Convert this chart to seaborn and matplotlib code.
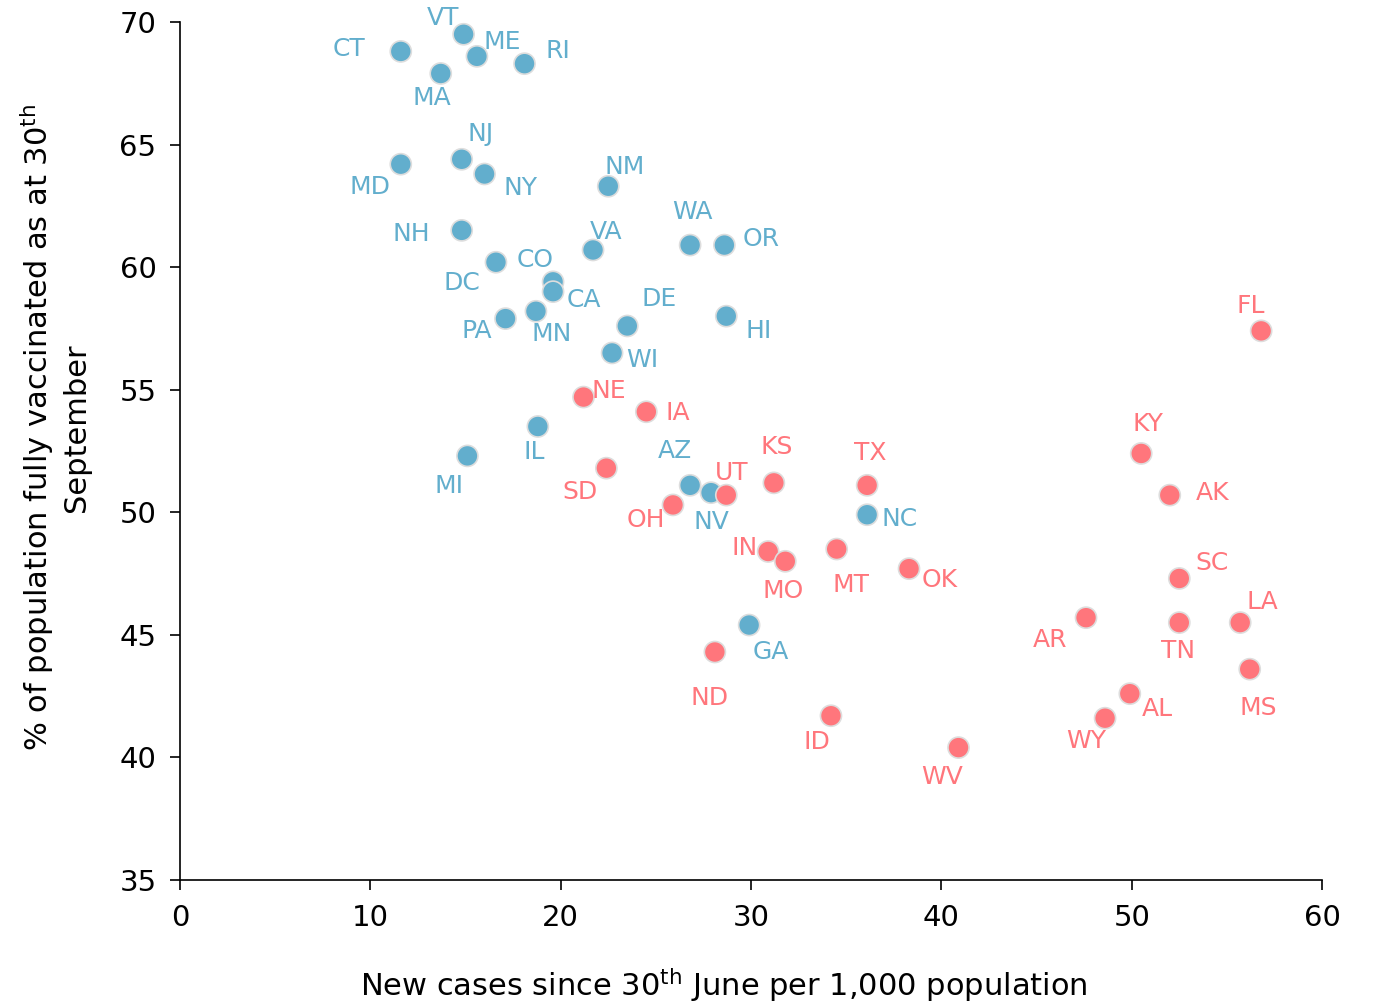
import matplotlib
matplotlib.use("Agg")
import matplotlib.pyplot as plt
import seaborn as sns
import pandas as pd

# ---- data ----
blue_states = ["CT", "VT", "ME", "RI", "MA", "NJ", "MD", "NY", "NM", "NH", "WA", "OR", "VA",
               "CO", "DC", "CA", "PA", "MN", "DE", "HI", "WI", "IL", "MI", "AZ", "NV", "NC", "GA"]
blue_cases = [11.6, 14.9, 15.6, 18.1, 13.7, 14.8, 11.6, 16.0, 22.5, 14.8, 26.8, 28.6, 21.7,
              16.6, 19.6, 19.6, 17.1, 18.7, 23.5, 28.7, 22.7, 18.8, 15.1, 26.8, 27.9, 36.1, 29.9]
blue_vacc = [68.8, 69.5, 68.6, 68.3, 67.9, 64.4, 64.2, 63.8, 63.3, 61.5, 60.9, 60.9, 60.7,
             60.2, 59.4, 59.0, 57.9, 58.2, 57.6, 58.0, 56.5, 53.5, 52.3, 51.1, 50.8, 49.9, 45.4]

red_states = ["FL", "NE", "IA", "KY", "SD", "KS", "TX", "AK", "UT", "OH", "IN", "MO", "MT", "OK",
              "SC", "AR", "TN", "LA", "ND", "MS", "AL", "WY", "ID", "WV"]
red_cases = [56.8, 21.2, 24.5, 50.5, 22.4, 31.2, 36.1, 52.0, 28.7, 25.9, 30.9, 31.8, 34.5, 38.3,
             52.5, 47.6, 52.5, 55.7, 28.1, 56.2, 49.9, 48.6, 34.2, 40.9]
red_vacc = [57.4, 54.7, 54.1, 52.4, 51.8, 51.2, 51.1, 50.7, 50.7, 50.3, 48.4, 48.0, 48.5, 47.7,
            47.3, 45.7, 45.5, 45.5, 44.3, 43.6, 42.6, 41.6, 41.7, 40.4]

x_ticks = [0, 10, 20, 30, 40, 50, 60]
y_ticks = [35, 40, 45, 50, 55, 60, 65, 70]

# ---- layout: label offsets (pixels, x right / y up) ----
label_offsets = {
    "CT": (-52, 2), "VT": (-21, 16), "ME": (25, 14), "RI": (33, 13), "MA": (-9, -25),
    "NJ": (19, 25), "MD": (-31, -23), "NY": (36, -14), "NM": (16, 19), "NH": (-50, -4),
    "WA": (2, 33), "OR": (37, 6), "VA": (13, 18), "CO": (39, 2), "DC": (-91, -1),
    "CA": (31, -8), "PA": (-29, -12), "MN": (16, -23), "DE": (32, 27), "HI": (32, -15),
    "WI": (30, -7), "IL": (-4, -26), "MI": (-18, -30), "AZ": (-15, 34), "NV": (0, -29),
    "NC": (32, -4), "GA": (22, -27),
    "FL": (-10, 25), "NE": (25, 6), "IA": (31, -1), "KY": (7, 29), "SD": (-26, -24),
    "KS": (3, 36), "TX": (3, 32), "AK": (43, 2), "UT": (5, 22), "OH": (-27, -15),
    "IN": (-24, 3), "MO": (-2, -30), "MT": (14, -36), "OK": (31, -11), "SC": (33, 15),
    "AR": (-36, -22), "TN": (-1, -28), "LA": (22, 21), "ND": (-5, -46), "MS": (9, -39),
    "AL": (28, -15), "WY": (-19, -23), "ID": (-14, -26), "WV": (-16, -29),
}

BLUE = "#62AECD"
RED = "#FF767C"

df = pd.concat([
    pd.DataFrame({"state": blue_states, "cases": blue_cases, "vacc": blue_vacc, "group": "blue"}),
    pd.DataFrame({"state": red_states, "cases": red_cases, "vacc": red_vacc, "group": "red"}),
], ignore_index=True)

sns.set_theme(style="white")
plt.rcParams["font.family"] = ["DejaVu Sans"]
plt.rcParams["mathtext.default"] = "regular"

fig = plt.figure(figsize=(13.75, 10.05), dpi=100)
ax = fig.add_axes([0.1309, 0.1244, 0.8306, 0.8537])

sns.scatterplot(data=df, x="cases", y="vacc", hue="group",
                palette={"blue": BLUE, "red": RED}, s=230,
                edgecolor="#DDDDDD", linewidth=1.2, legend=False, ax=ax, zorder=3)

for _, r in df.iterrows():
    dx, dy = label_offsets[r["state"]]
    ax.annotate(r["state"], (r["cases"], r["vacc"]), xytext=(dx, dy),
                textcoords="offset pixels", ha="center", va="center",
                fontsize=18, color=BLUE if r["group"] == "blue" else RED)

ax.set_xlim(0, 60)
ax.set_ylim(35, 70)
ax.set_xticks(x_ticks)
ax.set_yticks(y_ticks)
ax.tick_params(axis="both", labelsize=21, length=7, width=1.2, direction="out",
               bottom=True, left=True, colors="black", pad=10)
for side in ["top", "right"]:
    ax.spines[side].set_visible(False)
for side in ["left", "bottom"]:
    ax.spines[side].set_color("black")
    ax.spines[side].set_linewidth(1.2)

ax.set_xlabel("New cases since 30$^{th}$ June per 1,000 population", fontsize=22, color="black")
ax.xaxis.set_label_coords(0.476, -0.100)
ax.set_ylabel("% of population fully vaccinated as at 30$^{th}$\nSeptember", fontsize=22,
              linespacing=1.25, color="black")
ax.yaxis.set_label_coords(-0.078, 0.527)

fig.savefig("out.png", dpi=100)
